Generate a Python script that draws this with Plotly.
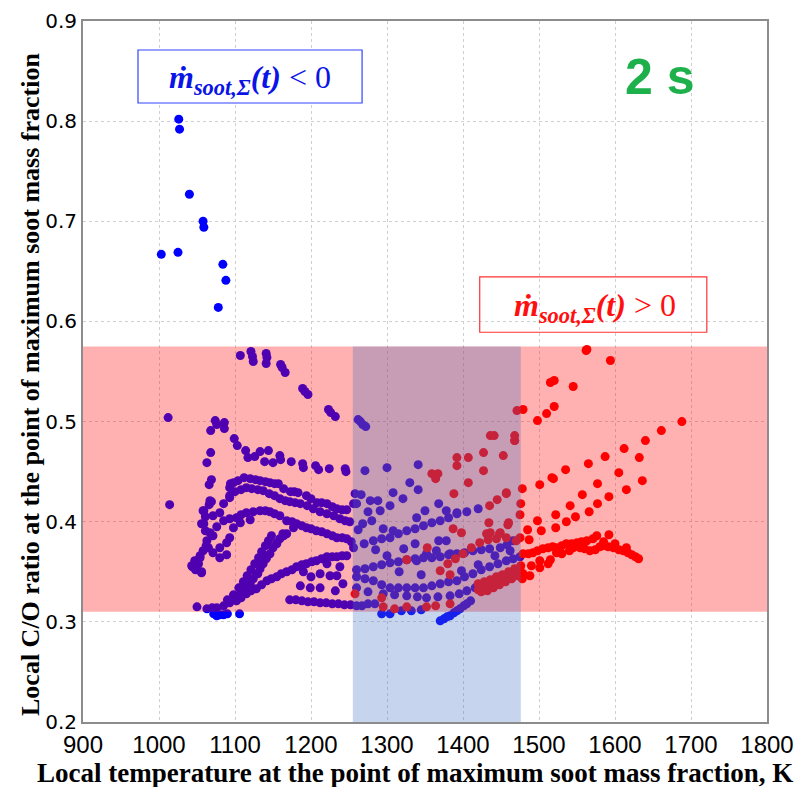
import plotly.graph_objects as go

# Points where the total soot mass rate is negative (temperature K, C/O ratio)
neg_T = [
    1026, 1027, 1040, 1058, 1059, 1003, 1025, 1084, 1088, 1078,
    1012, 1014,
    1107, 1121, 1123, 1124, 1141, 1142, 1141, 1160, 1162, 1166, 1189, 1192, 1196, 1223, 1226, 1232, 1262, 1265, 1268, 1272,
    1074, 1068, 1076, 1086, 1086, 1099, 1103, 1114, 1117, 1126, 1133, 1144, 1139, 1150, 1159, 1160, 1174, 1189, 1190, 1206,
    1210, 1224, 1245, 1246, 1271, 1300, 1341,
    1068, 1063, 1069, 1066, 1069, 1066, 1059, 1061, 1059, 1061, 1063, 1062, 1058, 1054, 1050, 1044, 1056, 1048, 1052,
    1058, 1067, 1056, 1071, 1080, 1071, 1065, 1054, 1047, 1043, 1056, 1071, 1080, 1089, 1093, 1080, 1089, 1098, 1107, 1120,
    1085, 1093, 1093, 1098,
    1094, 1104, 1112, 1120, 1127, 1133, 1140, 1146, 1152, 1157, 1164, 1173, 1178, 1183, 1194, 1200, 1208, 1214, 1221, 1228,
    1234, 1241, 1247, 1256,
    1093, 1100, 1108, 1115, 1122, 1130, 1137, 1145, 1152, 1159, 1166, 1172, 1179, 1186, 1195, 1203, 1212, 1221, 1230, 1238,
    1245, 1251,
    1067, 1076, 1085, 1093, 1102, 1108, 1115, 1124, 1133, 1140, 1146, 1152, 1159, 1168, 1175, 1181, 1188, 1194, 1200, 1207,
    1214, 1221, 1228, 1234, 1241, 1247, 1253,
    1063, 1070, 1076, 1085, 1093, 1100, 1107, 1113, 1120, 1124, 1128, 1133, 1137, 1141, 1146, 1150, 1155, 1159, 1164, 1168,
    1090, 1098, 1105, 1111, 1116, 1121, 1126, 1131, 1135, 1140, 1144, 1148, 1130, 1142, 1155, 1163, 1177,
    1102, 1108, 1115, 1121, 1128, 1135, 1142, 1148, 1155, 1161, 1168, 1175, 1181, 1188, 1194, 1201, 1207, 1214, 1221, 1228,
    1234, 1241, 1247,
    1172, 1180, 1188, 1196, 1204, 1212, 1220, 1228, 1236, 1244, 1252, 1260,
    1186, 1199, 1212, 1225, 1212, 1234, 1221, 1238, 1242, 1232, 1200, 1190,
    1050, 1072, 1076, 1080, 1085, 1090, 1106,
    1256, 1270, 1282, 1293, 1304, 1315, 1326, 1337, 1348, 1359, 1370, 1381, 1392, 1405, 1420,
    1260, 1271, 1282, 1293, 1304, 1315, 1326, 1337, 1348, 1359, 1370, 1381, 1392, 1402, 1413, 1424, 1435, 1449, 1458, 1466,
    1260, 1271, 1282, 1293, 1304, 1315, 1326, 1337, 1348, 1359, 1370, 1381, 1392, 1402, 1413, 1424, 1435, 1446, 1457, 1466,
    1475,
    1260, 1275, 1295, 1310, 1326, 1340, 1352, 1367, 1383, 1395, 1405, 1416, 1427, 1438, 1449,
    1370, 1375, 1379, 1383, 1388, 1392, 1396, 1401, 1405, 1410,
    1293, 1304, 1319, 1332, 1345,
    1267, 1275, 1284,
    1330, 1341, 1308, 1321, 1368, 1260, 1278, 1288, 1304, 1291, 1350, 1339, 1378, 1392, 1322, 1337, 1352, 1368, 1378, 1365,
    1383, 1339, 1308, 1295, 1280, 1258, 1266, 1275, 1268, 1262, 1285, 1300, 1316, 1345, 1398, 1420, 1442, 1462,
]
neg_CO = [
    0.802, 0.792, 0.727, 0.700, 0.694, 0.667, 0.669, 0.657, 0.641, 0.614,
    0.504, 0.417,
    0.566, 0.570, 0.565, 0.560, 0.568, 0.564, 0.558, 0.557, 0.554, 0.549, 0.533, 0.530, 0.527, 0.512, 0.509, 0.505, 0.502, 0.500, 0.497, 0.495,
    0.501, 0.491, 0.497, 0.499, 0.493, 0.483, 0.476, 0.471, 0.464, 0.465, 0.470, 0.471, 0.460, 0.459, 0.466, 0.462, 0.460, 0.458, 0.454, 0.456,
    0.452, 0.453, 0.453, 0.450, 0.451, 0.454, 0.457,
    0.469, 0.459, 0.442, 0.437, 0.420, 0.417, 0.411, 0.405, 0.398, 0.391, 0.381, 0.376, 0.371, 0.366, 0.361, 0.355, 0.350, 0.352, 0.358,
    0.411, 0.421, 0.398, 0.406, 0.409, 0.386, 0.374, 0.364, 0.361, 0.356, 0.349, 0.369, 0.374, 0.379, 0.384, 0.364, 0.367, 0.394, 0.399, 0.402,
    0.418, 0.424, 0.434, 0.439,
    0.438, 0.441, 0.444, 0.443, 0.442, 0.441, 0.440, 0.439, 0.438, 0.438, 0.433, 0.430, 0.430, 0.429, 0.426, 0.423, 0.419, 0.419, 0.418, 0.415,
    0.413, 0.412, 0.412, 0.418,
    0.426, 0.430, 0.432, 0.434, 0.433, 0.432, 0.431, 0.428, 0.426, 0.423, 0.421, 0.420, 0.419, 0.418, 0.416, 0.413, 0.410, 0.408, 0.406, 0.403,
    0.401, 0.400,
    0.389, 0.395, 0.401, 0.403, 0.404, 0.407, 0.409, 0.410, 0.411, 0.411, 0.410, 0.408, 0.406, 0.401, 0.400, 0.398, 0.396, 0.394, 0.393, 0.391,
    0.390, 0.388, 0.386, 0.384, 0.384, 0.383, 0.380,
    0.313, 0.314, 0.314, 0.316, 0.319, 0.323, 0.328, 0.333, 0.338, 0.343, 0.348, 0.353, 0.358, 0.363, 0.368, 0.374, 0.379, 0.383, 0.386, 0.388,
    0.322, 0.327, 0.334, 0.340, 0.346, 0.352, 0.358, 0.364, 0.370, 0.376, 0.381, 0.386, 0.348, 0.365, 0.378, 0.388, 0.394,
    0.321, 0.324, 0.328, 0.331, 0.333, 0.337, 0.341, 0.343, 0.345, 0.348, 0.350, 0.352, 0.355, 0.357, 0.358, 0.360, 0.361, 0.363, 0.365, 0.365,
    0.365, 0.366, 0.366,
    0.322, 0.322, 0.321, 0.320, 0.320, 0.319, 0.319, 0.318, 0.318, 0.317, 0.317, 0.316,
    0.336, 0.334, 0.334, 0.346, 0.348, 0.346, 0.358, 0.355, 0.338, 0.331, 0.345, 0.350,
    0.315, 0.308, 0.306, 0.307, 0.307, 0.308, 0.308,
    0.374, 0.378, 0.381, 0.383, 0.384, 0.388, 0.391, 0.393, 0.396, 0.399, 0.401, 0.404, 0.408, 0.410, 0.413,
    0.352, 0.353, 0.355, 0.357, 0.359, 0.360, 0.362, 0.363, 0.364, 0.364, 0.365, 0.367, 0.368, 0.369, 0.371, 0.372, 0.373, 0.374, 0.377, 0.381,
    0.345, 0.343, 0.341, 0.337, 0.334, 0.334, 0.334, 0.334, 0.334, 0.336, 0.338, 0.340, 0.341, 0.345, 0.348, 0.352, 0.355, 0.358, 0.361, 0.363,
    0.365,
    0.334, 0.330, 0.328, 0.327, 0.326, 0.325, 0.324, 0.325, 0.326, 0.328, 0.331, 0.334, 0.338, 0.341, 0.345,
    0.301, 0.303, 0.305, 0.306, 0.309, 0.311, 0.313, 0.316, 0.318, 0.321,
    0.308, 0.308, 0.311, 0.311, 0.312,
    0.316, 0.318, 0.318,
    0.439, 0.432, 0.429, 0.423, 0.418, 0.418, 0.421, 0.421, 0.416, 0.411, 0.411, 0.404, 0.411, 0.409, 0.373, 0.378, 0.368, 0.381, 0.381, 0.371,
    0.368, 0.361, 0.391, 0.393, 0.401, 0.428, 0.427, 0.410, 0.398, 0.392, 0.372, 0.366, 0.350, 0.347, 0.351, 0.357, 0.366, 0.371,
]

# Points where the total soot mass rate is positive
pos_T = [
    1392, 1407, 1392, 1427, 1453, 1468, 1359, 1364, 1367, 1407, 1427, 1388, 1457, 1445, 1435, 1434, 1449, 1460, 1431, 1387,
    1398, 1353, 1326, 1441, 1436, 1468, 1468, 1457, 1459, 1448, 1436,
    1380, 1390, 1400, 1411, 1422, 1433, 1444, 1457, 1470,
    1420, 1425, 1430, 1435, 1440, 1445, 1450, 1455, 1460, 1465, 1470, 1475,
    1420, 1428, 1436, 1444, 1452, 1460, 1468, 1476,
    1424, 1432, 1440, 1448, 1456, 1464, 1472,
    1258, 1295, 1310, 1326, 1352, 1364, 1383, 1293, 1370, 1383,
    1479, 1471, 1498, 1510, 1520, 1515, 1520, 1545, 1562, 1563, 1594,
    1478, 1501, 1517, 1519, 1535, 1565, 1587, 1612, 1640, 1661, 1688,
    1476, 1475, 1498, 1522, 1541, 1557, 1577, 1605, 1632, 1636, 1615, 1592, 1577, 1566, 1548, 1536, 1522, 1503, 1485, 1487,
    1475,
    1479, 1486, 1492, 1498, 1505, 1512, 1518, 1523, 1530, 1536, 1543, 1550, 1556, 1563, 1571, 1576, 1592, 1584, 1591, 1598,
    1605, 1611, 1617, 1622, 1627, 1631, 1554, 1560, 1567, 1574, 1580, 1540, 1523, 1512, 1501, 1501, 1490, 1488, 1479, 1478,
    1515, 1530, 1545, 1585, 1600, 1615,
]
pos_CO = [
    0.464, 0.464, 0.456, 0.469, 0.466, 0.481, 0.448, 0.443, 0.448, 0.439, 0.451, 0.428, 0.429, 0.422, 0.416, 0.399, 0.389, 0.399, 0.388, 0.393,
    0.389, 0.374, 0.362, 0.486, 0.486, 0.486, 0.481, 0.428, 0.397, 0.388, 0.389,
    0.358, 0.363, 0.368, 0.374, 0.379, 0.382, 0.383, 0.384, 0.381,
    0.332, 0.334, 0.336, 0.337, 0.339, 0.341, 0.343, 0.345, 0.347, 0.349, 0.351, 0.352,
    0.338, 0.340, 0.342, 0.345, 0.347, 0.350, 0.353, 0.356,
    0.330, 0.331, 0.334, 0.337, 0.340, 0.343, 0.346,
    0.328, 0.315, 0.313, 0.315, 0.315, 0.316, 0.318, 0.324, 0.351, 0.347,
    0.512, 0.511, 0.501, 0.508, 0.515, 0.539, 0.541, 0.535, 0.571, 0.572, 0.561,
    0.433, 0.437, 0.444, 0.443, 0.452, 0.458, 0.465, 0.473, 0.481, 0.491, 0.500,
    0.418, 0.407, 0.401, 0.407, 0.416, 0.427, 0.438, 0.449, 0.464, 0.441, 0.432, 0.425, 0.418, 0.410, 0.405, 0.400, 0.394, 0.391, 0.392, 0.382,
    0.384,
    0.368, 0.368, 0.369, 0.371, 0.373, 0.374, 0.375, 0.374, 0.376, 0.378, 0.378, 0.379, 0.380, 0.381, 0.383, 0.386, 0.387, 0.376, 0.375, 0.374,
    0.372, 0.371, 0.369, 0.367, 0.365, 0.363, 0.374, 0.373, 0.371, 0.372, 0.375, 0.371, 0.369, 0.358, 0.361, 0.354, 0.356, 0.346, 0.348, 0.343,
    0.362, 0.368, 0.374, 0.380, 0.378, 0.374,
]

# Shaded ranges
co_band = [0.31, 0.575]
t_band = [1255, 1476]

x_ticks = [900, 1000, 1100, 1200, 1300, 1400, 1500, 1600, 1700, 1800]
y_ticks = [0.2, 0.3, 0.4, 0.5, 0.6, 0.7, 0.8, 0.9]

fig = go.Figure()
fig.add_trace(go.Scatter(
    x=neg_T, y=neg_CO, mode="markers",
    marker=dict(color="#0000FF", size=9, line=dict(width=0)),
    showlegend=False,
))
fig.add_trace(go.Scatter(
    x=pos_T, y=pos_CO, mode="markers",
    marker=dict(color="#FF0000", size=9, line=dict(width=0)),
    showlegend=False,
))

# translucent bands drawn over the markers
fig.add_shape(type="rect", xref="x", yref="y", layer="above",
              x0=900, x1=1800, y0=co_band[0], y1=co_band[1],
              fillcolor="rgba(255,0,0,0.31)", line=dict(width=0))
fig.add_shape(type="rect", xref="x", yref="y", layer="above",
              x0=t_band[0], x1=t_band[1], y0=0.2, y1=co_band[1],
              fillcolor="rgba(70,114,196,0.30)", line=dict(width=0))

# label boxes
fig.add_shape(type="rect", xref="paper", yref="paper", layer="above",
              x0=0.0804, x1=0.408, y0=0.883, y1=0.9586,
              fillcolor="white", line=dict(color="#3344FF", width=1.2))
fig.add_shape(type="rect", xref="paper", yref="paper", layer="above",
              x0=0.580, x1=0.912, y0=0.556, y1=0.635,
              fillcolor="rgba(0,0,0,0)", line=dict(color="#FF3333", width=1.2))

serif = "Liberation Serif, Times New Roman, serif"
fig.add_annotation(
    xref="paper", yref="paper", x=0.244, y=0.916, xanchor="center", yanchor="middle",
    showarrow=False,
    text="<b><i>ṁ</i></b><sub><b><i>soot,Σ</i></b></sub><b><i>(t)</i></b> &lt; 0",
    font=dict(family=serif, size=32, color="#0A14E6"),
)
fig.add_annotation(
    xref="paper", yref="paper", x=0.749, y=0.592, xanchor="center", yanchor="middle",
    showarrow=False,
    text="<b><i>ṁ</i></b><sub><b><i>soot,Σ</i></b></sub><b><i>(t)</i></b> &gt; 0",
    font=dict(family=serif, size=32, color="#FF1010"),
)
fig.add_annotation(
    xref="paper", yref="paper", x=0.8436, y=0.920, xanchor="center", yanchor="middle",
    showarrow=False,
    text="<b>2 s</b>",
    font=dict(family="Liberation Sans, Arial, sans-serif", size=50, color="#1DB04B"),
)

# axis titles
fig.add_annotation(
    xref="paper", yref="paper", x=(415 - 83) / 684, y=-(773 - 722) / 701,
    xanchor="center", yanchor="middle", showarrow=False,
    text="<b>Local temperature at the point of maximum soot mass fraction, K</b>",
    font=dict(family=serif, size=27, color="black"),
)
fig.add_annotation(
    xref="paper", yref="paper", x=-(83 - 30) / 684, y=(722 - 385) / 701,
    xanchor="center", yanchor="middle", showarrow=False, textangle=-90,
    text="<b>Local C/O ratio at the point of maximum soot mass fraction</b>",
    font=dict(family=serif, size=26, color="black"),
)

grid = dict(showgrid=True, gridcolor="#CFCFCF", griddash="dot", gridwidth=1,
            showline=True, linecolor="#8C8C8C", linewidth=2, mirror=True,
            zeroline=False, ticks="", ticklabeloverflow="allow")

fig.update_xaxes(
    range=[900, 1800], tickvals=x_ticks, ticktext=[str(v) for v in x_ticks],
    tickfont=dict(family="Liberation Sans Narrow, Arial Narrow, Liberation Sans, sans-serif", size=24, color="black"),
    automargin=False, **grid,
)
fig.update_yaxes(
    range=[0.2, 0.9], tickvals=y_ticks, ticktext=[f"{v:.1f}" for v in y_ticks],
    tickfont=dict(family="DejaVu Sans, sans-serif", size=20, color="black"),
    automargin=False, **grid,
)

fig.update_layout(
    width=797, height=787,
    margin=dict(l=83, r=30, t=21, b=65),
    paper_bgcolor="white", plot_bgcolor="white",
)

fig.write_html("out.html")
